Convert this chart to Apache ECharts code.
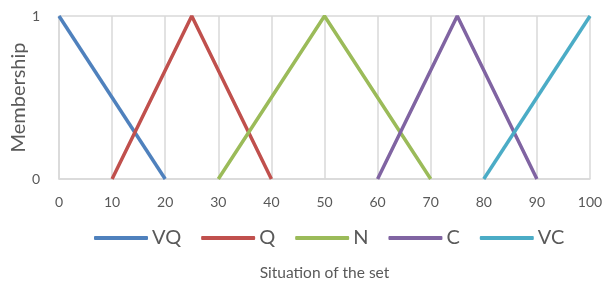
<!DOCTYPE html>
<html>
<head>
<meta charset="utf-8">
<script src="https://cdn.jsdelivr.net/npm/echarts@6/dist/echarts.min.js"></script>
<style>
  html, body { margin: 0; padding: 0; background: #fff; }
  #main { width: 606px; height: 289px; }
</style>
</head>
<body>
<div id="main"></div>
<script>
// membership functions: [x, membership] breakpoints
var names = ['VQ', 'Q', 'N', 'C', 'VC'];
var vq = [[0, 1], [20, 0]];
var q = [[10, 0], [25, 1], [40, 0]];
var n = [[30, 0], [50, 1], [70, 0]];
var c = [[60, 0], [75, 1], [90, 0]];
var vc = [[80, 0], [100, 1]];
var colors = ['#4F81BD', '#C0504D', '#9BBB59', '#8064A2', '#4BACC6'];

var chart = echarts.init(document.getElementById('main'));
var font = 'Lato, "Open Sans", sans-serif';

var seriesData = [vq, q, n, c, vc];
var series = seriesData.map(function (d, i) {
  return {
    name: names[i],
    type: 'line',
    data: d,
    symbol: 'none',
    lineStyle: { width: 3.5, color: colors[i] },
    itemStyle: { color: colors[i] }
  };
});

var option = {
  animation: false,
  grid: { left: 59, right: 16, top: 16, bottom: 110, outerBoundsMode: 'none', containLabel: false },
  legend: {
    data: names,
    left: 89,
    top: 223,
    itemWidth: 54,
    itemHeight: 4,
    itemGap: 20,
    icon: 'roundRect',
    textStyle: { fontSize: 20, color: '#595959', fontFamily: font, padding: [0, 0, 0, -1] }
  },
  xAxis: {
    type: 'value',
    min: 0,
    max: 100,
    interval: 10,
    name: 'Situation of the set',
    nameLocation: 'middle',
    nameGap: 86,
    nameMoveOverlap: false,
    nameTextStyle: { fontSize: 15.5, color: '#595959', fontFamily: font },
    axisLine: { show: true, lineStyle: { color: '#d9d9d9', width: 1.5 } },
    axisTick: { show: false },
    axisLabel: { margin: 16, fontSize: 14, color: '#595959', fontFamily: font },
    splitLine: { show: true, lineStyle: { color: '#d9d9d9', width: 1.5 } }
  },
  yAxis: {
    type: 'value',
    min: 0,
    max: 1,
    interval: 1,
    name: 'Membership',
    nameLocation: 'middle',
    nameGap: 30,
    nameMoveOverlap: false,
    nameTextStyle: { fontSize: 20, color: '#595959', fontFamily: font },
    axisLine: { show: true, lineStyle: { color: '#d9d9d9', width: 1.5 } },
    axisTick: { show: false },
    axisLabel: { margin: 19, fontSize: 14, color: '#595959', fontFamily: font },
    splitLine: { show: true, lineStyle: { color: '#d9d9d9', width: 1.5 } }
  },
  series: series
};

chart.setOption(option);
</script>
</body>
</html>
